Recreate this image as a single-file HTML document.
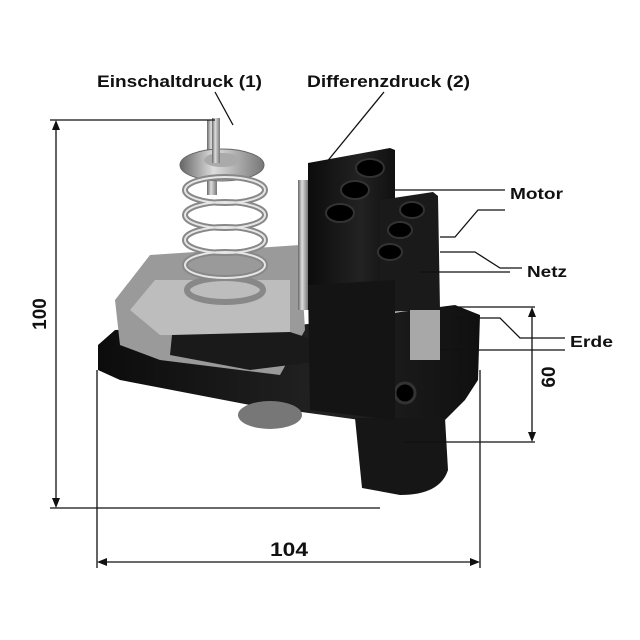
<!DOCTYPE html>
<html><head><style>
html,body{margin:0;padding:0;background:#fff;}
svg{display:block}
text{font-family:"Liberation Sans",Arial,sans-serif;font-weight:bold;fill:#111;}
</style></head><body>
<svg width="640" height="640" viewBox="0 0 640 640">
<defs>
<linearGradient id="met" x1="0" x2="1"><stop offset="0" stop-color="#666"/><stop offset=".4" stop-color="#ddd"/><stop offset="1" stop-color="#777"/></linearGradient>
<linearGradient id="blk" x1="0" x2="1"><stop offset="0" stop-color="#0c0c0c"/><stop offset=".6" stop-color="#222"/><stop offset="1" stop-color="#101010"/></linearGradient>
</defs>
<!-- base -->
<polygon points="98,345 115,330 300,325 455,305 480,315 478,380 465,400 440,425 360,420 250,405 120,380 98,370" fill="url(#blk)"/>
<ellipse cx="270" cy="415" rx="32" ry="14" fill="#777"/>
<path d="M355,418 L445,418 L448,470 Q440,495 400,495 L362,488 Z" fill="#161616"/>
<circle cx="405" cy="393" r="10" fill="#000" stroke="#333" stroke-width="3"/>
<!-- metal plate -->
<polygon points="115,300 150,255 300,245 305,330 280,375 160,360 120,345" fill="#9a9a9a"/>
<polygon points="130,310 155,280 290,280 290,335 160,335" fill="#bdbdbd"/>
<polygon points="172,335 290,332 330,345 330,360 250,370 170,355" fill="#1a1a1a"/>
<!-- spring -->
<rect x="207" y="120" width="10" height="75" fill="url(#met)"/>
<ellipse cx="222" cy="165" rx="42" ry="16" fill="url(#met)" stroke="#666"/>
<ellipse cx="222" cy="160" rx="18" ry="7" fill="#aaa"/>
<rect x="212" y="118" width="8" height="45" fill="url(#met)"/>
<g fill="none" stroke="#888" stroke-width="6">
<ellipse cx="225" cy="190" rx="40" ry="13"/><ellipse cx="225" cy="215" rx="40" ry="13"/>
<ellipse cx="225" cy="240" rx="40" ry="13"/><ellipse cx="225" cy="265" rx="40" ry="13"/>
<ellipse cx="225" cy="290" rx="38" ry="12"/>
</g>
<g fill="none" stroke="#e6e6e6" stroke-width="2">
<ellipse cx="225" cy="190" rx="40" ry="13"/><ellipse cx="225" cy="215" rx="40" ry="13"/>
<ellipse cx="225" cy="240" rx="40" ry="13"/><ellipse cx="225" cy="265" rx="40" ry="13"/>
</g>
<!-- small screw -->
<rect x="298" y="180" width="10" height="130" fill="url(#met)"/>
<!-- terminal block -->
<polygon points="308,163 390,148 395,150 395,300 308,310" fill="url(#blk)"/>
<polygon points="380,200 433,192 438,196 440,310 380,312" fill="#1a1a1a"/>
<polygon points="308,285 395,280 395,420 310,410" fill="#141414"/>
<g fill="#000" stroke="#333" stroke-width="2">
<ellipse cx="370" cy="168" rx="14" ry="9"/><ellipse cx="355" cy="190" rx="14" ry="9"/><ellipse cx="340" cy="213" rx="14" ry="9"/>
<ellipse cx="412" cy="210" rx="12" ry="8"/><ellipse cx="400" cy="230" rx="12" ry="8"/><ellipse cx="390" cy="252" rx="12" ry="8"/>
</g>
<rect x="410" y="310" width="30" height="50" fill="#a8a8a8"/>
<!-- dimension lines -->
<g stroke="#111" stroke-width="1.3" fill="none">
<line x1="50" y1="120" x2="215" y2="120"/>
<line x1="50" y1="508" x2="380" y2="508"/>
<line x1="56" y1="124" x2="56" y2="504"/>
<line x1="97" y1="370" x2="97" y2="568"/>
<line x1="480" y1="370" x2="480" y2="568"/>
<line x1="101" y1="562" x2="476" y2="562"/>
<line x1="445" y1="307" x2="535" y2="307"/>
<line x1="405" y1="442" x2="535" y2="442"/>
<line x1="532" y1="311" x2="532" y2="438"/>
<line x1="215" y1="92" x2="233" y2="125"/>
<line x1="384" y1="92" x2="312" y2="180"/>
<polyline points="395,190 505,190"/>
<polyline points="440,237 455,237 478,210 505,210"/>
<polyline points="440,252 475,252 500,268 522,268"/>
<polyline points="420,272 510,272"/>
<polyline points="455,318 500,318 520,338 565,338"/>
<polyline points="440,350 565,350"/>
</g>
<g fill="#111">
<polygon points="56,120 52,130 60,130"/><polygon points="56,508 52,498 60,498"/>
<polygon points="97,562 107,558 107,566"/><polygon points="480,562 470,558 470,566"/>
<polygon points="532,307 528,317 536,317"/><polygon points="532,442 528,432 536,432"/>
</g>
<text x="97" y="87" font-size="17" textLength="165" lengthAdjust="spacingAndGlyphs">Einschaltdruck (1)</text>
<text x="307" y="87" font-size="17" textLength="163" lengthAdjust="spacingAndGlyphs">Differenzdruck (2)</text>
<text x="510" y="199" font-size="16" textLength="53" lengthAdjust="spacingAndGlyphs">Motor</text>
<text x="527" y="277" font-size="16" textLength="40" lengthAdjust="spacingAndGlyphs">Netz</text>
<text x="570" y="347" font-size="16" textLength="43" lengthAdjust="spacingAndGlyphs">Erde</text>
<text x="270" y="556" font-size="19" textLength="38" lengthAdjust="spacingAndGlyphs">104</text>
<text transform="translate(46,314) rotate(-90)" font-size="19" text-anchor="middle">100</text>
<text transform="translate(555,377) rotate(-90)" font-size="19" text-anchor="middle">60</text>
</svg>
</body></html>
